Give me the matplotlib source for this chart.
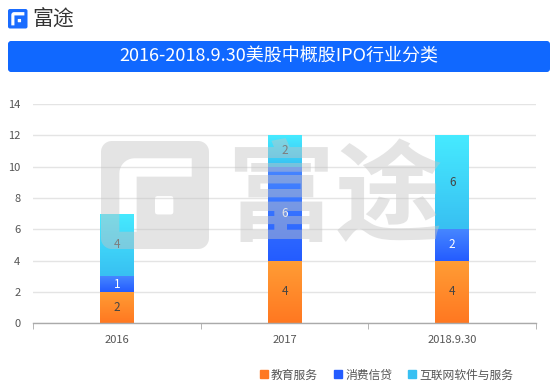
import numpy as np
import matplotlib
matplotlib.use('Agg')
import matplotlib.pyplot as plt
from matplotlib.path import Path
from matplotlib.patches import PathPatch, FancyBboxPatch
from matplotlib.lines import Line2D
from matplotlib.colors import LinearSegmentedColormap

categories = ['2016', '2017', '2018.9.30']
series_names = ['教育服务', '消费信贷', '互联网软件与服务']
education = [2, 4, 4]
consumer_credit = [1, 6, 2]
internet_software = [4, 2, 6]
y_ticks = [0, 2, 4, 6, 8, 10, 12, 14]
title = '2016-2018.9.30美股中概股IPO行业分类'
brand = '富途'

plt.rcParams['font.family'] = ['Noto Sans CJK SC', 'DejaVu Sans']

W, H = 558, 392
fig = plt.figure(figsize=(W / 100, H / 100), dpi=100)
fig.patch.set_facecolor('white')

ax = fig.add_axes([33 / W, 1 - 323.3 / H, (536 - 33) / W, (323.3 - 104) / H])
x = np.arange(len(categories))
colors_top = ['#ff9d35', '#4686ff', '#46eaff']
colors_bot = ['#ff7821', '#245cff', '#38c0f2']
label_colors = ['#444444', 'white', '#444444']
series = [education, consumer_credit, internet_software]
bottom = np.zeros(len(categories))
grad = np.linspace(0, 1, 64).reshape(-1, 1)
for vals, ct, cb, lc in zip(series, colors_top, colors_bot, label_colors):
    bars = ax.bar(x, vals, width=0.2, bottom=bottom, color=cb, zorder=2, linewidth=0)
    cmap = LinearSegmentedColormap.from_list('g', [cb, ct])
    for b in bars:
        bx, by, bw, bh = b.get_x(), b.get_y(), b.get_width(), b.get_height()
        im = ax.imshow(grad, extent=[bx, bx + bw, by, by + bh], cmap=cmap,
                       aspect='auto', origin='lower', zorder=2.1, interpolation='bilinear')
        im.set_clip_path(b)
    texts = ax.bar_label(bars, label_type='center', color=lc, fontsize=8.5)
    for t in texts:
        t.set_zorder(3)
    bottom += np.array(vals)

ax.set_xlim(-0.5, len(categories) - 0.5)
ax.set_ylim(0, 14)
ax.set_yticks(y_ticks)
ax.set_xticks(x, categories)
ax.set_xticks(np.arange(-0.5, len(categories)), minor=True)
ax.yaxis.grid(True, color='#e4e4e4', lw=1)
ax.set_axisbelow(True)
ax.tick_params(axis='y', length=0, labelsize=8, labelcolor='#555555', pad=9)
ax.tick_params(axis='x', which='major', length=0, labelsize=8, labelcolor='#555555', pad=8.5)
ax.tick_params(axis='x', which='minor', length=4, color='#aaaaaa', direction='out')
for s in ['top', 'right', 'left']:
    ax.spines[s].set_visible(False)
ax.spines['bottom'].set_color('#aaaaaa')
ax.spines['bottom'].set_linewidth(1)
ax.patch.set_alpha(0)

# overlay in pixel coordinates
ov = fig.add_axes([0, 0, 1, 1], zorder=10)
ov.patch.set_alpha(0)
ov.axis('off')


def rr_verts(x0, y0, w, h, r, n=10):
    pts = []
    x1, y1 = x0 + w, y0 + h
    for (cx, cy, a0) in [(x1 - r, y0 + r, -90), (x1 - r, y1 - r, 0),
                         (x0 + r, y1 - r, 90), (x0 + r, y0 + r, 180)]:
        for a in np.linspace(np.radians(a0), np.radians(a0 + 90), n):
            pts.append((cx + r * np.cos(a), cy + r * np.sin(a)))
    return np.array(pts)


def signed_area(p):
    return 0.5 * np.sum(p[:, 0] * np.roll(p[:, 1], -1) - np.roll(p[:, 0], -1) * p[:, 1])


def logo_path(x0, y0, s):
    outer = rr_verts(x0, y0, s, s, 0.1 * s)
    L = [(0.17, 0.84), (0.17, 0.16 + 0.14)]
    for a in np.linspace(np.pi, 1.5 * np.pi, 10):
        L.append((0.17 + 0.14 + 0.14 * np.cos(a), 0.16 + 0.14 + 0.14 * np.sin(a)))
    L += [(0.84, 0.16), (0.84, 0.33), (0.33, 0.33), (0.33, 0.84)]
    L = np.array([(x0 + px * s, y0 + py * s) for px, py in L])
    sq = rr_verts(x0 + 0.5 * s, y0 + 0.51 * s, 0.17 * s, 0.17 * s, 0.02 * s, n=3)
    so = np.sign(signed_area(outer))
    polys = [outer]
    for hp in [L, sq]:
        if np.sign(signed_area(hp)) == so:
            hp = hp[::-1]
        polys.append(hp)
    verts, codes = [], []
    for p in polys:
        verts += list(p) + [p[0]]
        codes += [Path.MOVETO] + [Path.LINETO] * (len(p) - 1) + [Path.CLOSEPOLY]
    return Path(verts, codes)


# watermark
ov.add_patch(PathPatch(logo_path(101, 141, 108), facecolor='#c4c4c4', edgecolor='none', alpha=0.45))
ov.text(334.5, 201, brand, fontsize=78, fontweight='bold', color='#c4c4c4', alpha=0.45,
        ha='center', va='center')

# header logo
ov.add_patch(PathPatch(logo_path(8, 9, 19.5), facecolor='#1a6cff', edgecolor='none'))
ov.text(32, 19.5, brand, fontsize=15, color='#333333', ha='left', va='center', fontweight='medium')

# banner
banner = FancyBboxPatch((8, 41), 542, 31, boxstyle='round,pad=0,rounding_size=4',
                        facecolor='#1068ff', edgecolor='none')
ov.add_patch(banner)
bg = np.linspace(0, 1, 128).reshape(1, -1)
bim = ov.imshow(bg, extent=[8, 550, 72, 41],
                cmap=LinearSegmentedColormap.from_list('b', ['#0a5cff', '#1a7cff']),
                aspect='auto', interpolation='bilinear')
bim.set_clip_path(banner)
ov.text(279, 56.5, title, color='white', fontsize=13, ha='center', va='center')

ov.set_xlim(0, W)
ov.set_ylim(H, 0)

# legend
handles = [Line2D([], [], marker='s', ls='', color=c, markersize=6) for c in colors_bot]
fig.legend(handles, series_names, loc='center right', bbox_to_anchor=(524 / W, 1 - 375 / H),
           ncol=3, frameon=False, fontsize=8.5, handletextpad=0.1, columnspacing=1.2,
           handlelength=1.0, labelcolor='#555555')

fig.savefig('out.png', dpi=100)
